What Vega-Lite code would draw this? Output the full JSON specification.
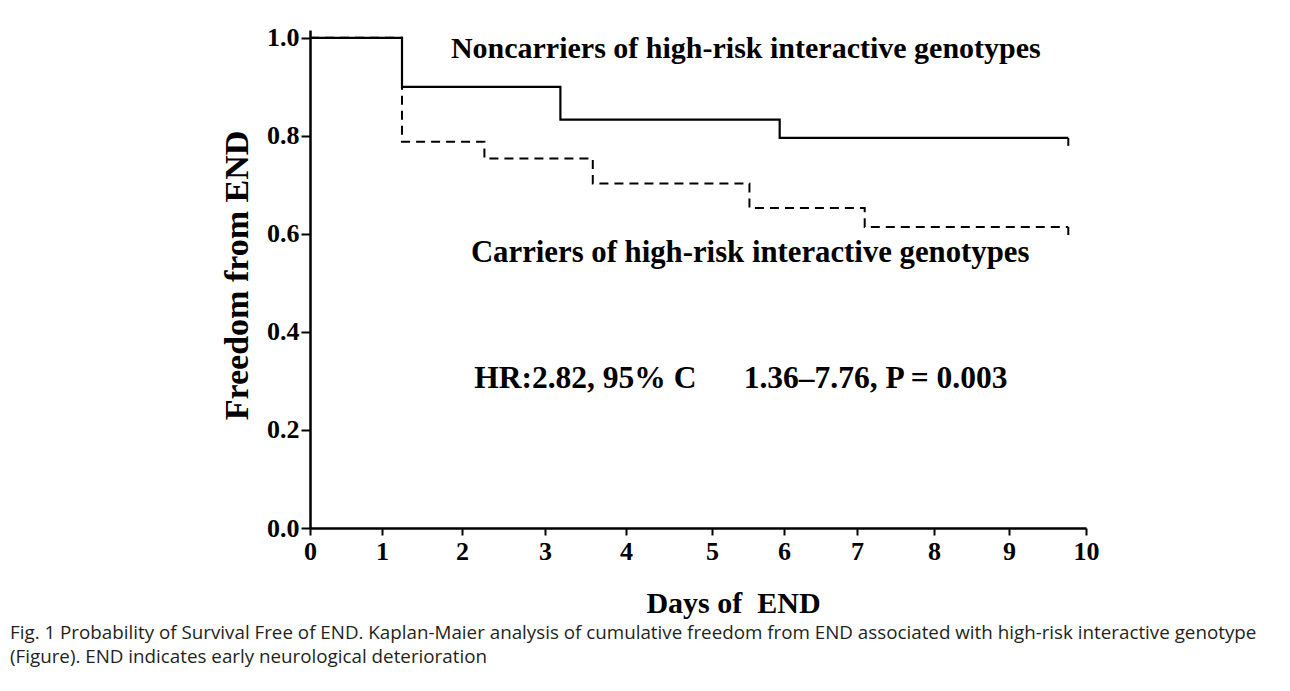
{
  "$schema": "https://vega.github.io/schema/vega-lite/v6.json",
  "width": 776,
  "height": 498,
  "autosize": {"type": "none"},
  "padding": {"left": 310, "top": 30, "right": 204, "bottom": 163},
  "background": "white",
  "config": {"view": {"stroke": null}, "font": "Liberation Serif"},
  "title": {
    "text": "Fig. 1 Probability of Survival Free of END. Kaplan-Maier analysis of cumulative freedom from END associated with high-risk interactive genotype",
    "subtitle": "(Figure). END indicates early neurological deterioration",
    "orient": "bottom",
    "anchor": "start",
    "frame": "group",
    "dx": -300,
    "offset": 6,
    "font": "Open Sans",
    "fontSize": 18.8,
    "fontWeight": "normal",
    "color": "#231f20",
    "subtitleFont": "Open Sans",
    "subtitleFontSize": 18.8,
    "subtitleColor": "#231f20",
    "subtitlePadding": 5
  },
  "datasets": {
    "curves": [
      {"group": "Noncarriers", "day": 0, "p": 1.0},
      {"group": "Noncarriers", "day": 1.25, "p": 0.9},
      {"group": "Noncarriers", "day": 3.19, "p": 0.833},
      {"group": "Noncarriers", "day": 5.94, "p": 0.796},
      {"group": "Noncarriers", "day": 9.77, "p": 0.796},
      {"group": "Carriers", "day": 0, "p": 1.0},
      {"group": "Carriers", "day": 1.25, "p": 0.788},
      {"group": "Carriers", "day": 2.27, "p": 0.754},
      {"group": "Carriers", "day": 3.59, "p": 0.703},
      {"group": "Carriers", "day": 5.52, "p": 0.653},
      {"group": "Carriers", "day": 7.1, "p": 0.614},
      {"group": "Carriers", "day": 9.77, "p": 0.614}
    ],
    "censored": [
      {"group": "Noncarriers", "day": 9.77, "p": 0.796},
      {"group": "Carriers", "day": 9.77, "p": 0.614}
    ],
    "labels": [
      {"label": "Noncarriers of high-risk interactive genotypes", "day": 5.47, "p": 0.959, "size": "a"},
      {"label": "Carriers of high-risk interactive genotypes", "day": 5.53, "p": 0.543, "size": "b"},
      {"label": "HR:2.82, 95% C\u00a0\u00a0\u00a0\u00a0\u00a0\u00a01.36\u20137.76, P = 0.003", "day": 5.4, "p": 0.286, "size": "c"}
    ]
  },
  "encoding": {
    "x": {
      "field": "day",
      "type": "quantitative",
      "scale": {"domain": [0, 1, 2, 3, 4, 5, 6, 7, 8, 9, 10], "range": [0, 72, 152, 235, 316, 402, 474, 547, 624, 699, 776], "nice": false, "zero": false},
      "axis": {
        "title": "Days of\u00a0\u00a0END",
        "values": [0, 1, 2, 3, 4, 5, 6, 7, 8, 9, 10],
        "grid": false,
        "domainColor": "black",
        "domainWidth": 2.5,
        "tickColor": "black",
        "tickWidth": 2,
        "tickSize": 7,
        "labelFont": "Liberation Serif",
        "labelFontWeight": "bold",
        "labelFontSize": 26,
        "labelColor": "black",
        "labelPadding": 3,
        "labelFlush": false,
        "labelOverlap": false,
        "titleFont": "Liberation Serif",
        "titleFontWeight": "bold",
        "titleFontSize": 30,
        "titleColor": "black",
        "titleX": 423,
        "titleY": 84,
        "titleBaseline": "alphabetic"
      }
    },
    "y": {
      "field": "p",
      "type": "quantitative",
      "scale": {"domain": [0, 1.016], "nice": false, "zero": false},
      "axis": {
        "title": "Freedom from END",
        "values": [0, 0.2, 0.4, 0.6, 0.8, 1.0],
        "format": ".1f",
        "grid": false,
        "domainColor": "black",
        "domainWidth": 2.5,
        "tickColor": "black",
        "tickWidth": 2,
        "tickSize": 9,
        "labelFont": "Liberation Serif",
        "labelFontWeight": "bold",
        "labelFontSize": 26,
        "labelColor": "black",
        "labelPadding": 2,
        "labelFlush": false,
        "labelOverlap": false,
        "titleFont": "Liberation Serif",
        "titleFontWeight": "bold",
        "titleFontSize": 34,
        "titleColor": "black",
        "titleX": -73,
        "titleY": 245,
        "titleAlign": "center",
        "titleBaseline": "middle",
        "titleAngle": -90
      }
    }
  },
  "layer": [
    {
      "data": {"name": "curves"},
      "transform": [{"filter": "datum.group === 'Carriers'"}],
      "mark": {"type": "line", "interpolate": "step-after", "color": "black", "strokeWidth": 2, "strokeDash": [9, 6]}
    },
    {
      "data": {"name": "curves"},
      "transform": [{"filter": "datum.group === 'Noncarriers'"}],
      "mark": {"type": "line", "interpolate": "step-after", "color": "black", "strokeWidth": 2.2}
    },
    {
      "data": {"name": "censored"},
      "mark": {"type": "point", "shape": "M0,0L0,1", "size": 256, "filled": false, "color": "black", "strokeWidth": 2, "opacity": 1}
    },
    {
      "data": {"name": "labels"},
      "mark": {"type": "text", "font": "Liberation Serif", "fontWeight": "bold", "align": "center", "baseline": "alphabetic", "color": "black"},
      "encoding": {
        "text": {"field": "label"},
        "size": {"field": "size", "type": "nominal", "scale": {"domain": ["a", "b", "c"], "range": [30, 31.5, 32]}, "legend": null}
      }
    }
  ]
}
